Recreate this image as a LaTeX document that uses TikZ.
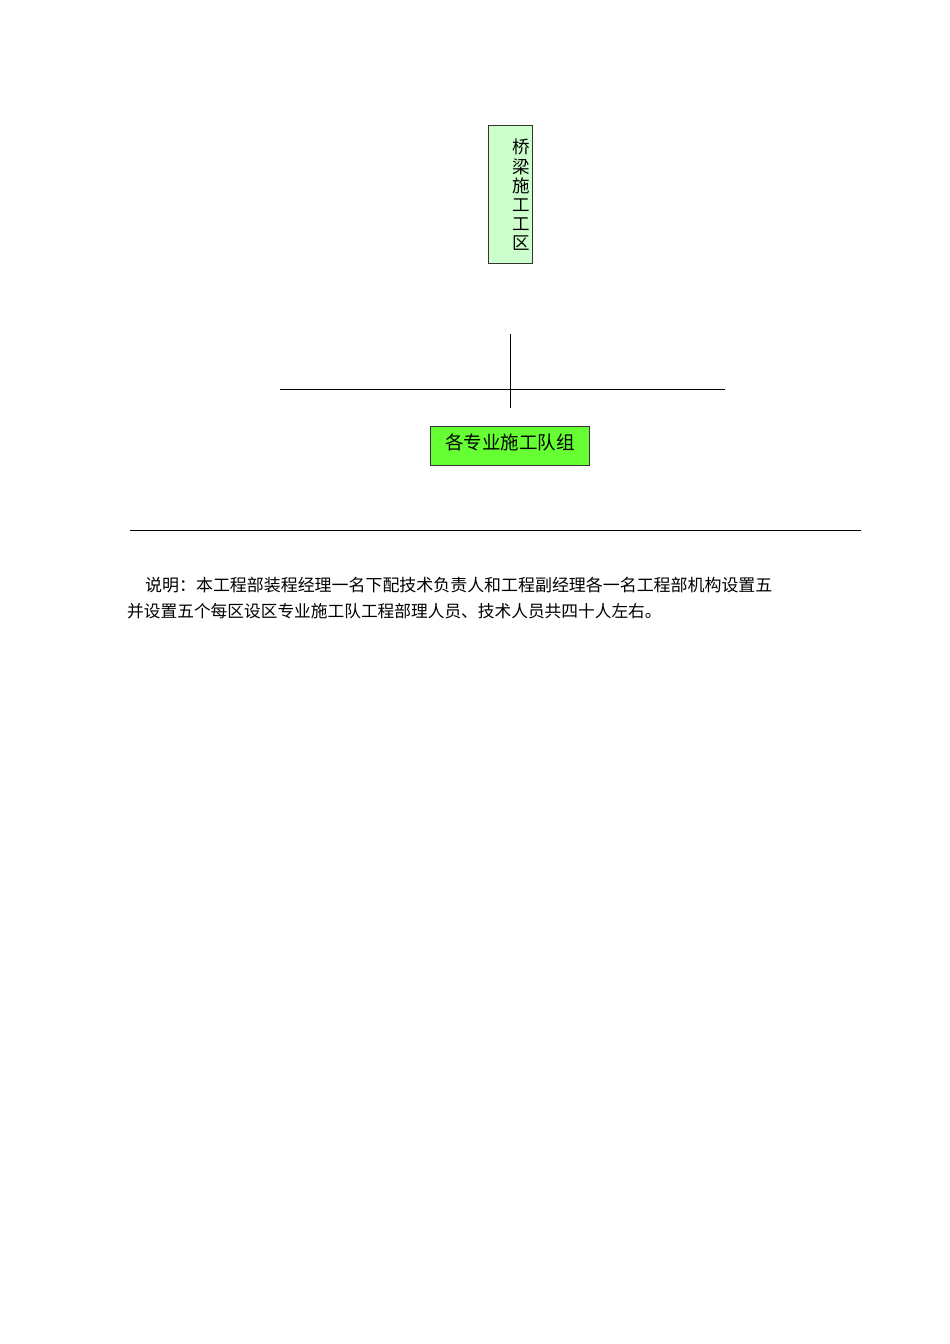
\documentclass[tikz,border=0pt]{standalone}
\usepackage{fontspec}
\newfontfamily\cjk{Noto Sans CJK SC}
\definecolor{lightgrn}{RGB}{204,255,204}
\definecolor{brightgrn}{RGB}{102,255,51}
\begin{document}
\begin{tikzpicture}[x=1pt,y=-1pt,
  boxa/.style={draw=black!80,line width=0.8pt,fill=lightgrn,inner sep=0pt},
  boxb/.style={draw=black!80,line width=0.8pt,fill=brightgrn,inner sep=0pt},
  conn/.style={draw=black,line width=0.8pt},
  note/.style={anchor=west,inner sep=0pt}]
\useasboundingbox (0,0) rectangle (950,1344);
\fill[white] (0,0) rectangle (950,1344);
% box 1
\node[boxa,minimum width=44pt,minimum height=138pt] (qiao) at (510,194) {};
\node[inner sep=0pt,align=center,font=\cjk\fontsize{17.5}{19.2}\selectfont] (qiaot) at (521,195) {桥\\梁\\施\\工\\工\\区};
% connectors
\coordinate (vt) at (510,334);
\coordinate (vb) at (510,408);
\coordinate (hl) at (280,389);
\coordinate (hr) at (725,389);
\draw[conn] (vt) -- (vb);
\draw[conn] (hl) -- (hr);
% box 2
\node[boxb,minimum width=159pt,minimum height=39pt] (team) at (509.5,445.5) {};
\node[inner sep=0pt,font=\cjk\fontsize{18.5}{20}\selectfont] (teamt) at (510,442) {各专业施工队组};
% separator
\coordinate (sl) at (130,530);
\coordinate (sr) at (861,530);
\draw[line width=0.8pt] (sl) -- (sr);
% notes
\node[note,font=\cjk\fontsize{16.95}{18}\selectfont] (n1) at (145,585) {说明：本工程部装程经理一名下配技术负责人和工程副经理各一名工程部机构设置五};
\node[note,font=\cjk\fontsize{16.7}{18}\selectfont] (n2) at (127,611) {并设置五个每区设区专业施工队工程部理人员、技术人员共四十人左右。};
\end{tikzpicture}
\end{document}
